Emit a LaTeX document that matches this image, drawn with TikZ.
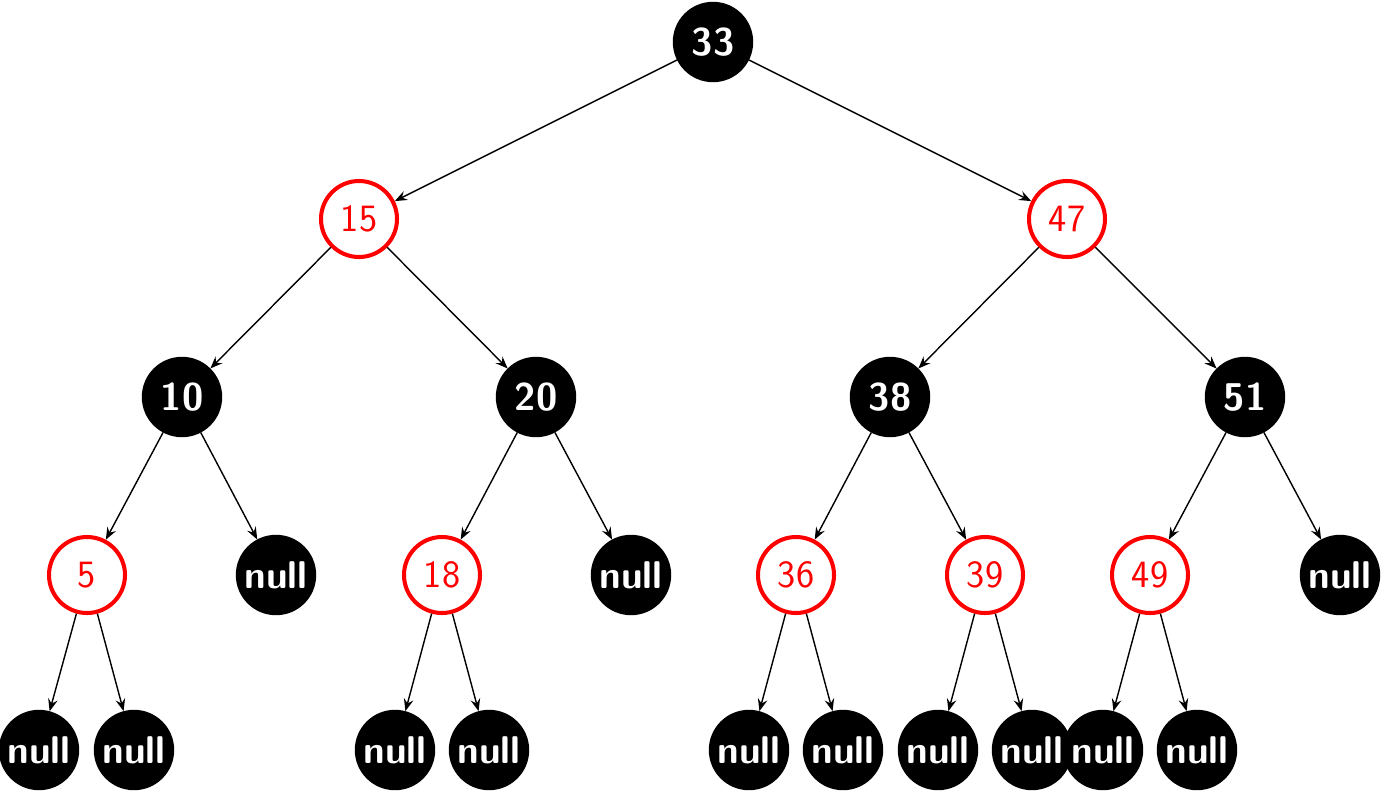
\documentclass[tikz,border=0pt]{standalone}
\usepackage{amssymb,amsmath}
\usepackage{tikz}
\usepackage{xcolor}
\usetikzlibrary{arrows.meta}

\tikzset{
  blk/.style={shape=circle,draw=black,fill=black,minimum size=1.58cm,inner sep=0pt,
              text=white,font=\fontsize{22}{26}\selectfont\sffamily\bfseries},
  rd/.style={shape=circle,draw=red,line width=2.3pt,minimum size=1.52cm,inner sep=0pt,
             text=red,font=\fontsize{22}{26}\selectfont\sffamily}
}

\begin{document}
\begin{tikzpicture}[
            > = {Stealth[length=7pt,width=5.5pt,inset=2.5pt]}, % arrow head style
            thick % line style
        ]
\useasboundingbox (0,0) rectangle (27.68,-15.84);

\node[blk] (N33) at (14.26,-0.84) {33};

\node[rd] (N15) at (7.18,-4.38) {15};
\node[rd] (N47) at (21.34,-4.38) {47};

\node[blk] (N10) at (3.64,-7.94) {10};
\node[blk] (N20) at (10.72,-7.94) {20};
\node[blk] (N38) at (17.80,-7.94) {38};
\node[blk] (N51) at (24.90,-7.94) {51};

\node[rd] (N5) at (1.74,-11.5) {5};
\node[blk] (L10) at (5.52,-11.5) {null};
\node[rd] (N18) at (8.84,-11.5) {18};
\node[blk] (L20) at (12.62,-11.5) {null};
\node[rd] (N36) at (15.92,-11.5) {36};
\node[rd] (N39) at (19.70,-11.5) {39};
\node[rd] (N49) at (23.00,-11.5) {49};
\node[blk] (L51) at (26.80,-11.5) {null};

\node[blk] (L5a) at (0.78,-15.0) {null};
\node[blk] (L5b) at (2.68,-15.0) {null};
\node[blk] (L18a) at (7.90,-15.0) {null};
\node[blk] (L18b) at (9.78,-15.0) {null};
\node[blk] (L36a) at (14.98,-15.0) {null};
\node[blk] (L36b) at (16.86,-15.0) {null};
\node[blk] (L39a) at (18.76,-15.0) {null};
\node[blk] (L39b) at (20.64,-15.0) {null};
\node[blk] (L49a) at (22.06,-15.0) {null};
\node[blk] (L49b) at (23.94,-15.0) {null};

 \path [->] (N33) edge (N15);
 \path [->] (N33) edge (N47);
 \path [->] (N15) edge (N10);
 \path [->] (N15) edge (N20);
 \path [->] (N47) edge (N38);
 \path [->] (N47) edge (N51);
 \path [->] (N10) edge (N5);
 \path [->] (N10) edge (L10);
 \path [->] (N20) edge (N18);
 \path [->] (N20) edge (L20);
 \path [->] (N38) edge (N36);
 \path [->] (N38) edge (N39);
 \path [->] (N51) edge (N49);
 \path [->] (N51) edge (L51);
 \path [->] (N5) edge (L5a);
 \path [->] (N5) edge (L5b);
 \path [->] (N18) edge (L18a);
 \path [->] (N18) edge (L18b);
 \path [->] (N36) edge (L36a);
 \path [->] (N36) edge (L36b);
 \path [->] (N39) edge (L39a);
 \path [->] (N39) edge (L39b);
 \path [->] (N49) edge (L49a);
 \path [->] (N49) edge (L49b);
\end{tikzpicture}
\end{document}
